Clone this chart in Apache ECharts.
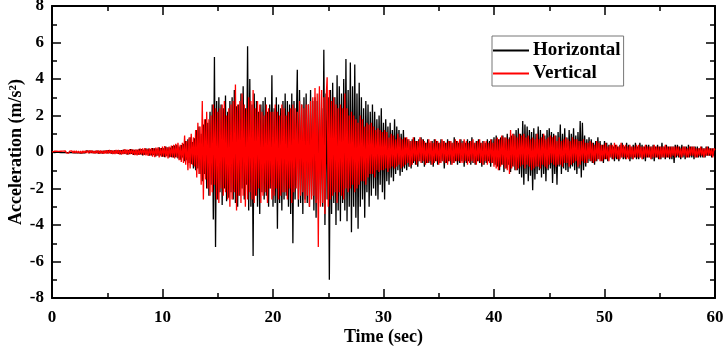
<!DOCTYPE html>
<html>
<head>
<meta charset="utf-8">
<script src="https://cdn.jsdelivr.net/npm/echarts@6/dist/echarts.min.js"></script>
<style>
  html, body { margin: 0; padding: 0; background: #fff; }
  #main { width: 726px; height: 347px; }
</style>
</head>
<body>
<div id="main"></div>
<script>
// sampling step of the records (sec)
var dt = 0.1;

// horizontal component (m/s2), one row = 1 s
var horizontal = [
  0,0.02,-0.03,0.02,-0.02,0.03,-0.02,0.03,-0.03,0.02,
  -0.03,0.04,-0.02,0.03,-0.04,0.03,-0.03,0.04,-0.03,0.05,
  -0.04,0.03,-0.05,0.04,-0.03,0.05,-0.06,0.04,-0.05,0.04,
  -0.05,0.06,-0.04,0.05,-0.06,0.07,-0.05,0.06,-0.07,0.05,
  -0.06,0.07,-0.08,0.05,-0.07,0.06,-0.08,0.07,-0.06,0.08,
  -0.07,0.09,-0.06,0.08,-0.09,0.07,-0.08,0.1,-0.07,0.09,
  -0.1,0.08,-0.12,0.1,-0.09,0.13,-0.1,0.12,-0.14,0.1,
  -0.12,0.15,-0.1,0.13,-0.16,0.11,-0.14,0.12,-0.15,0.17,
  -0.13,0.16,-0.18,0.12,-0.15,0.2,-0.14,0.18,-0.2,0.15,
  -0.18,0.22,-0.16,0.2,-0.24,0.18,-0.2,0.25,-0.18,0.22,
  -0.25,0.2,-0.28,0.3,-0.22,0.26,-0.3,0.24,-0.28,0.32,
  -0.3,0.35,-0.28,0.4,-0.35,0.3,-0.42,0.38,-0.3,0.45,
  -0.5,0.6,-0.45,0.7,-0.6,0.8,-0.65,0.55,-0.9,0.75,
  -1.0,1.2,-0.9,1.4,-1.2,1.0,-1.6,1.5,-1.2,1.8,
  -2.0,1.6,-2.4,2.2,-1.8,2.6,-3.7,5.2,-5.2,2.8,
  -2.6,3.0,-2.2,2.6,-2.9,2.4,-2.0,3.1,-2.7,2.2,
  -2.5,2.8,-2.2,3.0,-2.6,3.4,-2.8,2.5,-3.0,2.6,
  -2.4,3.2,-2.0,3.6,-2.6,2.4,-1.8,5.8,-3.2,4.0,
  -3.0,2.6,-5.7,3.2,-2.4,2.8,-3.0,2.2,-3.4,2.6,
  -2.2,2.8,-2.6,3.0,-2.4,2.2,-3.0,2.6,-2.0,4.2,
  -3.0,2.4,-2.8,3.0,-4.2,2.6,-2.8,2.4,-3.2,2.8,
  -2.6,3.2,-2.4,2.8,-3.0,2.6,-3.4,3.2,-5.0,2.8,
  -2.6,1.2,4.5,-3.0,3.4,-2.8,2.6,-3.4,3.0,-2.6,
  3.2,-2.8,2.6,-3.0,3.4,-2.4,2.8,-3.2,3.0,-3.6,
  2.8,-2.6,3.2,-2.8,2.4,-3.0,5.6,-4.0,3.2,-2.6,
  3.0,-7.0,3.4,-3.4,3.8,-2.8,3.0,-4.0,4.2,-3.2,
  3.6,-3.8,3.2,-2.8,4.0,-3.2,5.1,-3.8,3.4,-3.0,
  4.9,-4.4,3.6,-3.0,4.8,-3.6,3.2,-4.2,3.8,-3.0,
  3.0,-2.6,2.4,-3.6,2.8,-2.2,2.6,-3.0,2.2,-2.4,
  2.6,-2.0,2.2,-2.4,1.8,-2.6,2.0,-1.8,2.4,-2.2,
  1.6,-2.6,1.8,-1.6,1.4,-1.8,1.6,-1.4,1.2,-1.6,
  1.8,-1.2,1.4,-1.0,1.2,-1.3,1.0,-1.1,1.2,-0.9,
  0.8,-1.0,0.7,-0.8,0.6,-0.9,0.7,-0.6,0.8,-0.7,
  0.6,-0.8,0.7,-0.5,0.8,-0.6,0.7,-0.8,0.5,-0.6,
  0.7,-0.6,0.5,-0.7,0.6,-0.8,0.7,-0.5,0.6,-0.7,
  0.5,-0.6,0.7,-0.5,0.6,-0.9,0.5,-0.6,0.7,-0.5,
  0.6,-0.7,0.5,-0.6,0.8,-0.5,0.6,-0.7,0.5,-0.6,
  0.7,-0.5,0.6,-0.8,0.5,-0.6,0.7,-0.5,0.6,-0.7,
  0.8,-0.6,0.5,-0.7,0.6,-0.5,0.7,-0.6,0.5,-0.8,
  0.6,-0.7,0.5,-0.6,0.7,-0.5,0.6,-0.8,0.7,-0.6,
  0.8,-0.7,0.9,-0.8,0.7,-1.0,0.8,-0.7,0.9,-1.1,
  0.8,-0.9,1.0,-0.7,0.8,-1.1,0.9,-0.8,1.0,-1.0,
  1.2,-1.0,1.3,-1.2,1.0,-1.4,1.7,-1.8,1.5,-1.2,
  1.4,-1.6,1.2,-1.3,1.1,-2.1,1.3,-1.5,1.0,-1.2,
  1.4,-1.0,1.2,-1.4,1.0,-1.2,0.9,-1.6,1.2,-1.0,
  1.3,-0.9,1.1,-1.7,1.0,-1.2,0.9,-1.8,1.1,-0.8,
  1.5,-1.2,1.0,-0.9,1.3,-1.0,0.8,-1.1,1.2,-0.9,
  1.0,-0.8,1.3,-1.0,0.9,-1.2,1.1,-0.9,1.7,-1.4,
  1.6,-1.0,0.9,-0.8,0.7,-0.6,0.8,-0.5,0.7,-0.6,
  0.5,-0.7,0.6,-0.5,0.8,-0.4,0.6,-0.5,0.4,-0.6,
  0.6,-0.4,0.5,-0.5,0.4,-0.3,0.5,-0.4,0.3,-0.5,
  0.4,-0.4,0.3,-0.5,0.4,-0.3,0.5,-0.4,0.3,-0.4,
  0.5,-0.3,0.4,-0.5,0.3,-0.4,0.4,-0.3,0.5,-0.4,
  0.3,-0.4,0.5,-0.3,0.4,-0.4,0.3,-0.5,0.4,-0.3,
  0.4,-0.3,0.3,-0.4,0.4,-0.5,0.3,-0.3,0.4,-0.4,
  0.3,-0.4,0.5,-0.3,0.3,-0.4,0.4,-0.3,0.3,-0.4,
  0.3,-0.4,0.3,-0.6,0.4,-0.3,0.4,-0.3,0.3,-0.4,
  0.4,-0.3,0.3,-0.4,0.3,-0.3,0.4,-0.3,0.3,-0.3,
  0.3,-0.4,0.3,-0.3,0.3,-0.3,0.2,-0.3,0.3,-0.3,
  0.2,-0.3,0.3,-0.2,0.3,-0.2,0.2,-0.3,0.2,-0.2,
  0.1
];

// vertical component (m/s2), same time steps
var vertical = [
  0,-0.03,0.04,-0.03,0.05,-0.04,0.03,-0.05,0.04,-0.04,
  0.05,-0.04,0.06,-0.05,0.04,-0.06,0.05,-0.04,0.06,-0.05,
  0.06,-0.05,0.07,-0.06,0.05,-0.07,0.06,-0.08,0.07,-0.06,
  0.07,-0.06,0.08,-0.07,0.09,-0.06,0.08,-0.07,0.06,-0.08,
  0.08,-0.07,0.09,-0.1,0.08,-0.09,0.07,-0.1,0.09,-0.08,
  0.1,-0.09,0.11,-0.08,0.1,-0.12,0.09,-0.11,0.12,-0.1,
  0.11,-0.13,0.1,-0.14,0.12,-0.11,0.15,-0.12,0.13,-0.15,
  0.14,-0.12,0.16,-0.15,0.13,-0.17,0.15,-0.18,0.14,-0.16,
  0.18,-0.15,0.2,-0.17,0.22,-0.19,0.16,-0.22,0.2,-0.18,
  0.22,-0.25,0.2,-0.28,0.24,-0.2,0.26,-0.3,0.22,-0.25,
  0.3,-0.26,0.32,-0.28,0.25,-0.35,0.3,-0.27,0.35,-0.3,
  0.4,-0.35,0.45,-0.3,0.5,-0.45,0.4,-0.55,0.5,-0.6,
  0.9,-0.7,0.6,-1.0,0.8,-0.9,1.0,-0.7,0.8,-0.8,
  1.2,-1.4,1.6,-1.2,1.4,-1.8,2.8,-2.6,1.8,-1.5,
  2.2,-2.0,1.8,-2.4,2.0,-2.2,2.6,-1.8,2.4,-2.6,
  2.2,-2.8,2.4,-2.0,2.6,-2.4,2.8,-2.2,2.0,-2.6,
  2.4,-3.0,2.6,-2.6,2.8,-2.2,3.7,-3.2,2.6,-2.4,
  2.8,-2.8,3.2,-2.4,2.6,-3.0,2.4,-2.6,3.0,-2.2,
  2.8,-2.6,3.4,-2.8,2.4,-2.4,2.8,-2.0,2.6,-2.8,
  2.2,-2.4,2.0,-2.2,2.6,-2.8,2.4,-2.0,2.2,-2.6,
  2.2,-2.4,2.6,-2.0,2.2,-2.6,2.0,-2.4,2.6,-2.2,
  2.4,-2.2,2.0,-2.6,2.2,-2.0,2.4,-2.8,2.6,-2.2,
  2.4,-2.0,2.2,-2.6,2.8,-2.4,2.6,-2.2,2.4,-2.8,
  2.6,-2.4,2.6,-3.0,2.8,-2.6,3.0,-2.4,3.5,-2.8,
  3.2,-5.2,3.6,-3.0,3.4,-2.8,3.0,-3.4,2.8,4.1,
  -3.0,3.4,-2.6,2.8,-2.4,3.0,-2.2,2.6,-2.8,2.4,
  -2.2,2.6,-2.4,2.4,-2.6,3.2,-2.0,2.4,-2.2,2.0,
  -2.0,2.2,-1.8,2.0,-2.2,1.8,-2.0,1.6,-1.8,2.0,
  -1.6,1.8,-1.6,1.4,-1.8,1.6,-1.4,1.5,-1.2,1.6,
  -1.2,1.4,-1.4,1.2,-1.0,1.3,-1.1,1.2,-1.0,1.1,
  -1.0,1.2,-0.9,1.1,-1.1,0.8,-0.9,1.0,-0.8,0.9,
  -0.9,0.7,-0.8,1.0,-0.7,0.8,-0.9,0.7,-0.8,0.8,
  -0.7,0.8,-0.6,0.7,-0.8,0.6,-0.7,0.8,-0.5,0.6,
  -0.7,0.6,-0.5,0.8,-0.6,0.7,-0.5,0.6,-0.7,0.5,
  -0.6,0.7,-0.5,0.6,-0.7,0.5,-0.6,0.7,-0.5,0.6,
  -0.7,0.5,-0.6,0.7,-0.5,0.6,-0.6,0.5,-0.7,0.6,
  -0.5,0.6,-0.7,0.5,-0.6,0.7,-0.5,0.6,-0.5,0.7,
  -0.6,0.5,-0.6,0.7,-0.5,0.6,-0.7,0.5,-0.6,0.6,
  -0.5,0.7,-0.6,0.5,-0.7,0.6,-0.5,0.7,-0.6,0.5,
  -0.7,0.6,-0.5,0.6,-0.7,0.5,-0.6,0.7,-0.6,0.5,
  -0.8,0.7,-0.9,0.8,-1.0,0.7,-0.8,0.9,-0.7,0.8,
  -0.9,0.8,-1.0,0.7,-1.2,1.2,-0.9,1.0,-0.8,0.9,
  -1.0,0.8,-0.9,1.0,-0.8,0.9,-0.7,1.0,-0.9,0.8,
  -0.7,0.9,-0.8,0.7,-1.0,0.8,-0.9,0.7,-0.8,1.0,
  -0.8,0.7,-0.9,0.8,-0.7,1.0,-0.8,0.7,-0.9,0.8,
  -0.7,0.9,-0.6,0.8,-0.7,0.9,-0.8,0.6,-0.7,0.8,
  -0.7,0.6,-0.8,0.7,-0.6,0.8,-0.6,0.7,-0.8,0.6,
  -0.7,0.8,-0.6,0.7,-0.5,0.7,-0.8,0.6,-0.7,0.6,
  -0.5,0.7,-0.6,0.5,-0.6,0.5,-0.4,0.6,-0.5,0.5,
  -0.6,0.4,-0.5,0.6,-0.4,0.5,-0.5,0.4,-0.5,0.4,
  -0.4,0.5,-0.4,0.3,-0.5,0.4,-0.3,0.4,-0.4,0.5,
  -0.3,0.4,-0.4,0.3,-0.4,0.5,-0.3,0.4,-0.3,0.4,
  -0.4,0.3,-0.4,0.4,-0.3,0.3,-0.4,0.3,-0.3,0.4,
  -0.3,0.4,-0.3,0.3,-0.4,0.3,-0.3,0.4,-0.3,0.3,
  -0.3,0.3,-0.4,0.3,-0.3,0.4,-0.3,0.3,-0.3,0.3,
  -0.4,0.3,-0.3,0.3,-0.3,0.4,-0.3,0.3,-0.3,0.3,
  -0.3,0.3,-0.2,0.3,-0.3,0.3,-0.2,0.3,-0.3,0.2,
  -0.3,0.3,-0.2,0.3,-0.3,0.2,-0.3,0.3,-0.2,0.3,
  -0.2,0.3,-0.3,0.2,-0.3,0.2,-0.2,0.3,-0.2,0.2,
  -0.3,0.2,-0.2,0.3,-0.2,0.2,-0.2,0.2,-0.3,0.2,
  0.1
];

var seriesNames = ['Horizontal', 'Vertical'];
var xRange = [0, 60, 10];   // min, max, interval
var yRange = [-8, 8, 2];

function toPairs(arr) {
  return arr.map(function (v, i) { return [+(i * dt).toFixed(2), v]; });
}

var font = 'Liberation Serif, Times New Roman, serif';
var labelStyle = { color: '#000', fontFamily: font, fontWeight: 'bold', fontSize: 17 };

function axisBase(isX, mirror) {
  var r = isX ? xRange : yRange;
  return {
    type: 'value',
    min: r[0], max: r[1], interval: r[2],
    position: isX ? (mirror ? 'top' : 'bottom') : (mirror ? 'right' : 'left'),
    axisLine: { show: true, onZero: false, lineStyle: { color: '#000', width: 2 } },
    axisTick: { show: true, inside: true, length: 9, lineStyle: { color: '#000', width: 1.5 } },
    minorTick: { show: true, splitNumber: 2, length: 5, lineStyle: { color: '#000', width: 1.5 } },
    splitLine: { show: false },
    axisLabel: mirror ? { show: false } : Object.assign({ margin: isX ? 11 : 8 }, labelStyle)
  };
}

var chart = echarts.init(document.getElementById('main'));

var xMain = axisBase(true, false);
xMain.name = 'Time (sec)';
xMain.nameLocation = 'middle';
xMain.nameGap = 30;
xMain.nameMoveOverlap = false;
xMain.nameTextStyle = Object.assign({}, labelStyle, { fontSize: 18 });

var yMain = axisBase(false, false);
yMain.name = 'Acceleration (m/s²)';
yMain.nameLocation = 'middle';
yMain.nameGap = 27;
yMain.nameMoveOverlap = false;
yMain.nameTextStyle = Object.assign({}, labelStyle, { fontSize: 18 });

chart.setOption({
  animation: false,
  grid: { left: 52, right: 11, top: 6, bottom: 49, outerBoundsMode: 'none' },
  legend: {
    orient: 'vertical',
    left: 492, top: 36,
    data: seriesNames,
    icon: 'rect',
    itemWidth: 36, itemHeight: 2, itemGap: 4,
    padding: [5, 3, 3, 1],
    borderColor: '#777', borderWidth: 1,
    textStyle: { color: '#000', fontFamily: font, fontWeight: 'bold', fontSize: 19, padding: [0, 0, 0, -1] }
  },
  xAxis: [xMain, axisBase(true, true)],
  yAxis: [yMain, axisBase(false, true)],
  series: [
    {
      name: seriesNames[0], type: 'line', symbol: 'none',
      data: toPairs(horizontal),
      lineStyle: { color: '#000', width: 1.3 }, itemStyle: { color: '#000' }
    },
    {
      name: seriesNames[1], type: 'line', symbol: 'none',
      data: toPairs(vertical),
      lineStyle: { color: '#ff0000', width: 1.3 }, itemStyle: { color: '#ff0000' }
    }
  ]
});
</script>
</body>
</html>
